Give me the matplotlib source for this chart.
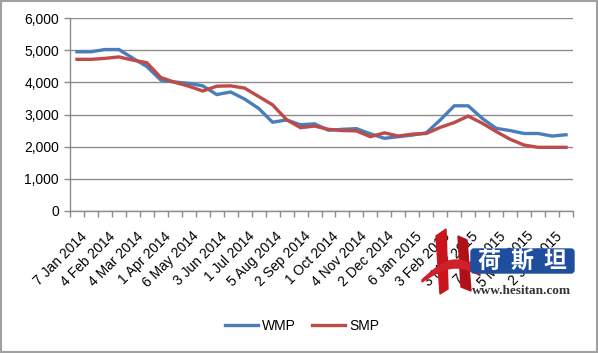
import matplotlib
matplotlib.use("Agg")
import matplotlib.pyplot as plt
from matplotlib.patches import Polygon, FancyBboxPatch, Rectangle
import numpy as np

# GDT auction dates (fortnightly), labels shown every other auction
dates = ["7 Jan 2014", "21 Jan 2014", "4 Feb 2014", "18 Feb 2014", "4 Mar 2014", "18 Mar 2014",
         "1 Apr 2014", "15 Apr 2014", "6 May 2014", "20 May 2014", "3 Jun 2014", "17 Jun 2014",
         "1 Jul 2014", "15 Jul 2014", "5 Aug 2014", "19 Aug 2014", "2 Sep 2014", "16 Sep 2014",
         "1 Oct 2014", "15 Oct 2014", "4 Nov 2014", "18 Nov 2014", "2 Dec 2014", "16 Dec 2014",
         "6 Jan 2015", "20 Jan 2015", "3 Feb 2015", "17 Feb 2015", "3 Mar 2015", "17 Mar 2015",
         "7 Apr 2015", "21 Apr 2015", "5 May 2015", "19 May 2015", "2 Jun 2015", "16 Jun 2015"]

wmp = [4950, 4950, 5020, 5020, 4750, 4490, 4070, 4010, 3970, 3890, 3620, 3700,
       3480, 3190, 2760, 2830, 2680, 2710, 2510, 2540, 2560, 2400, 2260, 2310,
       2360, 2430, 2830, 3270, 3270, 2880, 2570, 2500, 2410, 2410, 2330, 2370]

smp = [4715, 4715, 4745, 4790, 4690, 4610, 4150, 4000, 3880, 3730, 3880, 3890,
       3820, 3560, 3300, 2840, 2590, 2640, 2540, 2500, 2490, 2310, 2430, 2330,
       2390, 2410, 2600, 2750, 2950, 2730, 2470, 2230, 2050, 1980, 1980, 1980]

logo_chars = ["荷", "斯", "坦"]

W, H = 598, 353
fig = plt.figure(figsize=(W / 100, H / 100), dpi=100)
plt.rcParams['font.family'] = ['Liberation Sans', 'DejaVu Sans']

ax = fig.add_axes([70 / W, (H - 211) / H, 503 / W, 193 / H])
x = np.arange(len(dates))
ax.plot(x, wmp, color='#4a7ebb', lw=2.4, label='WMP', solid_joinstyle='miter')
ax.plot(x, smp, color='#be4b48', lw=2.4, label='SMP', solid_joinstyle='miter')

ax.set_xlim(-0.5, len(dates) - 0.5)
ax.set_ylim(0, 6000)
ax.set_yticks(np.arange(0, 6001, 1000))
ax.set_yticklabels([f"{v:,}" for v in range(0, 6001, 1000)], fontsize=10)
ax.yaxis.grid(True, color='#8c8c8c', lw=1)
ax.set_axisbelow(True)

# tick marks on category boundaries, labels on every other category
ax.set_xticks(np.arange(-0.5, len(dates), 1))
ax.set_xticklabels([])
ax.set_xticks(x[::2] + 0.2, minor=True)
ax.set_xticklabels(dates[::2], minor=True, rotation=45, ha='right',
                   rotation_mode='anchor', fontsize=10)
ax.tick_params(axis='x', which='major', length=4, color='#8c8c8c', width=1)
ax.tick_params(axis='x', which='minor', length=0, pad=13)
ax.tick_params(axis='y', length=4, color='#8c8c8c', width=1, pad=4)

for s in ['top', 'right']:
    ax.spines[s].set_visible(False)
for s in ['left', 'bottom']:
    ax.spines[s].set_color('#8c8c8c')
    ax.spines[s].set_linewidth(1)

fig.legend(loc='center', bbox_to_anchor=(302 / W, 1 - 326 / H), ncol=2, frameon=False,
           fontsize=10, handlelength=2.4, handletextpad=0.3, columnspacing=1.1)

# overlay for chart border and the site watermark
ov = fig.add_axes([0, 0, 1, 1], zorder=10)
ov.set_xlim(0, W)
ov.set_ylim(H, 0)
ov.axis('off')
ov.patch.set_alpha(0)
ov.add_patch(Rectangle((1, 1), W - 2, H - 2, fill=False, ec='#a0a0a0', lw=1.5))

ov.add_patch(Polygon([(436, 236), (446, 229), (448, 289), (440, 294)], color='#c8141c'))
ov.add_patch(Polygon([(458, 236), (467, 240), (471, 291), (461, 287)], color='#b01018'))
t = np.linspace(0, 1, 30)
top = np.column_stack([422 + 58 * t, 280 - 20 * np.sin(np.pi * t * 0.85)])
bot = np.column_stack([422 + 58 * t[::-1], 282 - 14 * np.sin(np.pi * t[::-1] * 0.85)])
ov.add_patch(Polygon(np.vstack([top, bot]), color='#d0202a'))
ov.add_patch(FancyBboxPatch((471, 249), 103, 24, boxstyle='round,pad=0,rounding_size=3',
                            color='#1f4e9e'))
for i, ch in enumerate(logo_chars):
    ov.text(489 + 33 * i, 261.5, ch, color='white', fontsize=16.5, fontweight='bold',
            ha='center', va='center', family=['Noto Sans CJK SC', 'DejaVu Sans'])
ov.text(522, 291, 'www.hesitan.com', color='#333333', fontsize=9.5, fontweight='bold',
        ha='center', va='center', family=['Liberation Serif', 'DejaVu Serif'])

fig.savefig('out.png', dpi=100)
